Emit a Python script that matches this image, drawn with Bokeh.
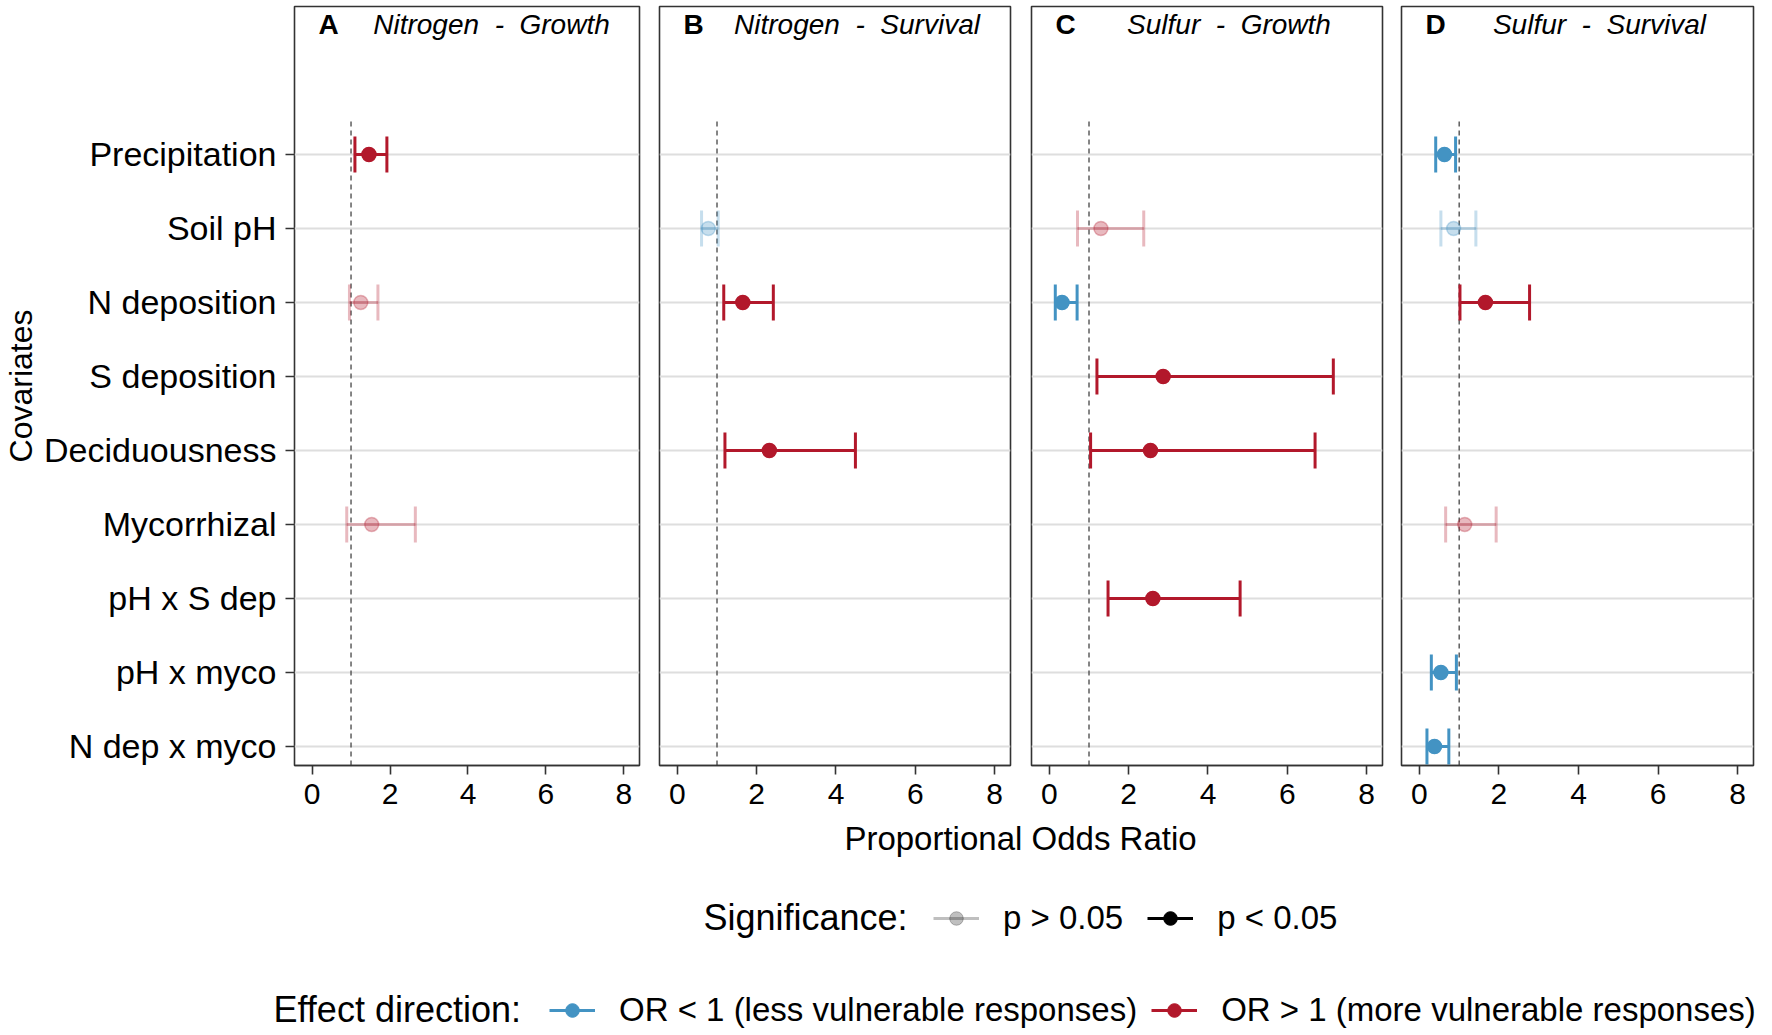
import numpy as np
from bokeh.plotting import figure
from bokeh.models import (ColumnDataSource, Range1d, FixedTicker, Grid, Label,
                          Legend, LegendItem)
from bokeh.layouts import row, column
from bokeh.embed import file_html
from bokeh.resources import INLINE

FONT = "Liberation Sans"
RED = "#B2182B"
BLUE = "#4393C3"
NS_ALPHA = 0.3

# ---------------- data ----------------
covariates = ["Precipitation", "Soil pH", "N deposition", "S deposition",
              "Deciduousness", "Mycorrhizal", "pH x S dep", "pH x myco",
              "N dep x myco"]
panel_letters = ["A", "B", "C", "D"]
panel_titles = ["Nitrogen - Growth", "Nitrogen - Survival",
                "Sulfur - Growth", "Sulfur - Survival"]
x_ticks = [0, 2, 4, 6, 8]
reference_or = 1.0

# Panel A: Nitrogen - Growth
a_cov = ["Precipitation", "N deposition", "Mycorrhizal"]
a_or = [1.46, 1.25, 1.53]
a_lo = [1.10, 0.96, 0.89]
a_hi = [1.92, 1.69, 2.65]
a_sig = [True, False, False]

# Panel B: Nitrogen - Survival
b_cov = ["Soil pH", "N deposition", "Deciduousness"]
b_or = [0.78, 1.65, 2.32]
b_lo = [0.61, 1.17, 1.20]
b_hi = [1.03, 2.42, 4.49]
b_sig = [False, True, True]

# Panel C: Sulfur - Growth
c_cov = ["Soil pH", "N deposition", "S deposition", "Deciduousness", "pH x S dep"]
c_or = [1.30, 0.32, 2.87, 2.55, 2.61]
c_lo = [0.71, 0.15, 1.20, 1.04, 1.48]
c_hi = [2.38, 0.70, 7.16, 6.70, 4.81]
c_sig = [False, True, True, True, True]

# Panel D: Sulfur - Survival
d_cov = ["Precipitation", "Soil pH", "N deposition", "Mycorrhizal",
         "pH x myco", "N dep x myco"]
d_or = [0.63, 0.86, 1.66, 1.14, 0.54, 0.38]
d_lo = [0.41, 0.54, 1.02, 0.66, 0.30, 0.19]
d_hi = [0.91, 1.42, 2.77, 1.93, 0.93, 0.74]
d_sig = [True, False, True, False, True, True]

panels = [(a_cov, a_or, a_lo, a_hi, a_sig),
          (b_cov, b_or, b_lo, b_hi, b_sig),
          (c_cov, c_or, c_lo, c_hi, c_sig),
          (d_cov, d_or, d_lo, d_hi, d_sig)]

# ---------------- layout constants ----------------
n_cov = len(covariates)
ypos = {c: n_cov - k for k, c in enumerate(covariates)}
y_ticks = [ypos[c] for c in covariates]
Y_START, Y_END = 0.743, 11.0
X_START, X_END = -0.45, 8.4
FRAME_H = 759
TOP_B, BOT_B = 6, 52
FIG_H = TOP_B + FRAME_H + BOT_B

# (fig width, left border, right border)
geoms = [(649, 289, 10), (371, 10, 10), (372, 11, 10), (378, 9, 17)]

figs = []
for i, ((cov, orr, lo, hi, sig), (w, lb, rb)) in enumerate(zip(panels, geoms)):
    frame_w = w - lb - rb
    p = figure(width=w, height=FIG_H,
               x_range=Range1d(X_START, X_END), y_range=Range1d(Y_START, Y_END),
               min_border_left=lb, min_border_right=rb,
               min_border_top=TOP_B, min_border_bottom=BOT_B,
               toolbar_location=None, output_backend="svg",
               y_axis_location="left" if i == 0 else None)
    p.grid.visible = False
    p.outline_line_color = "#333333"
    p.outline_line_width = 1.6
    p.background_fill_color = "white"
    p.border_fill_color = "white"

    grid = Grid(dimension=1, ticker=FixedTicker(ticks=y_ticks),
                grid_line_color="#DEDEDE", grid_line_width=2.2)
    p.add_layout(grid)

    # x axis
    xa = p.xaxis[0]
    xa.ticker = FixedTicker(ticks=x_ticks)
    xa.minor_tick_line_color = None
    xa.major_tick_in = 0
    xa.major_tick_out = 9
    xa.major_tick_line_color = "#333333"
    xa.major_tick_line_width = 1.6
    xa.axis_line_color = "#333333"
    xa.axis_line_width = 1.6
    xa.major_label_text_font = FONT
    xa.major_label_text_font_size = "30px"
    xa.major_label_text_color = "black"
    xa.major_label_standoff = 9

    if i == 0:
        ya = p.yaxis[0]
        ya.ticker = FixedTicker(ticks=y_ticks)
        ya.major_label_overrides = {ypos[c]: c for c in covariates}
        ya.minor_tick_line_color = None
        ya.major_tick_in = 0
        ya.major_tick_out = 9
        ya.major_tick_line_color = "#333333"
        ya.major_tick_line_width = 1.6
        ya.axis_line_color = None
        ya.major_label_text_font = FONT
        ya.major_label_text_font_size = "34px"
        ya.major_label_text_color = "black"
        ya.major_label_standoff = 9
        ya.axis_label = "Covariates"
        ya.axis_label_text_font = FONT
        ya.axis_label_text_font_size = "32px"
        ya.axis_label_text_font_style = "normal"
        ya.axis_label_text_color = "black"
        ya.axis_label_standoff = 2

    # reference line at OR = 1
    p.segment(x0=[reference_or], y0=[Y_START], x1=[reference_or], y1=[n_cov + 0.5],
              line_color="#444444", line_width=1.3, line_dash="5 4")

    colors = [RED if v > 1 else BLUE for v in orr]
    alphas = [1.0 if s else NS_ALPHA for s in sig]
    src = ColumnDataSource(dict(y=[ypos[c] for c in cov], orr=orr, lo=lo, hi=hi,
                                color=colors, alpha=alphas))
    p.segment(x0="lo", y0="y", x1="hi", y1="y", source=src,
              line_color="color", line_alpha="alpha", line_width=3)
    for col in ("lo", "hi"):
        p.scatter(x=col, y="y", source=src, marker="dash", angle=np.pi / 2,
                  size=36, line_color="color", line_alpha="alpha", line_width=3)
    p.scatter(x="orr", y="y", source=src, size=14, marker="circle",
              fill_color="color", fill_alpha="alpha",
              line_color="color", line_alpha="alpha", line_width=1.5)

    # strip text inside the panel
    p.add_layout(Label(x=34, y=FRAME_H - 18, x_units="screen", y_units="screen",
                       text=panel_letters[i], text_font=FONT, text_font_size="28px",
                       text_font_style="bold", text_color="black",
                       text_align="center", text_baseline="middle"))
    p.add_layout(Label(x=frame_w / 2 + 22, y=FRAME_H - 18, x_units="screen",
                       y_units="screen",
                       text=panel_titles[i].replace(" - ", "\u00a0\u00a0-\u00a0\u00a0"),
                       text_font=FONT, text_font_size="28px",
                       text_font_style="italic", text_color="black",
                       text_align="center", text_baseline="middle"))
    figs.append(p)

# ---------------- bottom: x title and legends ----------------
TOT_W = sum(g[0] for g in geoms)
BOT_H = 1033 - FIG_H
pl = figure(width=TOT_W, height=BOT_H, x_range=Range1d(0, TOT_W),
            y_range=Range1d(0, BOT_H), min_border=0,
            x_axis_location=None, y_axis_location=None,
            toolbar_location=None, output_backend="svg")
pl.grid.visible = False
pl.outline_line_color = None

pl.add_layout(Label(x=1020, y=1033 - 838, x_units="screen", y_units="screen",
                    text="Proportional Odds Ratio", text_font=FONT,
                    text_font_size="33px", text_color="black",
                    text_align="center", text_baseline="middle"))
pl.add_layout(Label(x=703, y=116, x_units="screen", y_units="screen",
                    text="Significance:", text_font=FONT, text_font_size="36px",
                    text_color="black", text_align="left", text_baseline="middle"))
pl.add_layout(Label(x=273, y=24, x_units="screen", y_units="screen",
                    text="Effect direction:", text_font=FONT, text_font_size="36px",
                    text_color="black", text_align="left", text_baseline="middle"))

OFF = [-10000.0]


def key(color, alpha):
    ln = pl.line(x=OFF, y=OFF, line_color=color, line_alpha=alpha, line_width=3)
    dt = pl.scatter(x=OFF, y=OFF, marker="circle", fill_color=color, fill_alpha=alpha,
                    line_color=color, line_alpha=alpha)
    return [ln, dt]


sig_labels = ["p > 0.05", "p < 0.05"]
dir_labels = ["OR < 1 (less vulnerable responses)", "OR > 1 (more vulnerable responses)"]

leg_common = dict(orientation="horizontal", glyph_width=46, glyph_height=34,
                  label_height=34, label_standoff=24, padding=0, margin=0,
                  border_line_color=None, background_fill_alpha=0,
                  label_text_font=FONT, label_text_font_size="33px",
                  label_text_color="black", label_text_baseline="middle")

leg1 = Legend(items=[LegendItem(label=sig_labels[0], renderers=key("black", 0.25)),
                     LegendItem(label=sig_labels[1], renderers=key("black", 1.0))],
              location=(933, 96), spacing=24, **leg_common)
leg2 = Legend(items=[LegendItem(label=dir_labels[0], renderers=key(BLUE, 1.0)),
                     LegendItem(label=dir_labels[1], renderers=key(RED, 1.0))],
              location=(549, 4), spacing=14, **leg_common)
pl.add_layout(leg1)
pl.add_layout(leg2)

layout = column(row(*figs), pl)
open("out.html", "w").write(file_html(layout, INLINE))
